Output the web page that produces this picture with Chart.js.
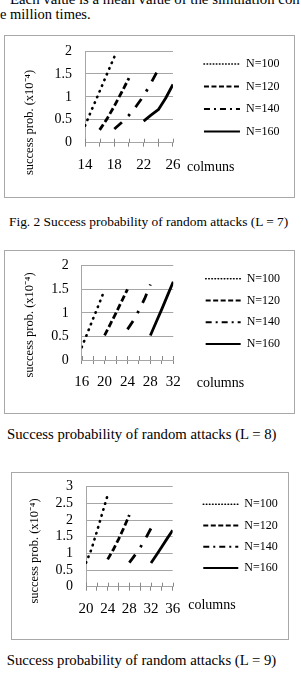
<!DOCTYPE html>
<html><head><meta charset="utf-8">
<script src="https://cdn.jsdelivr.net/npm/chart.js@4.4.1/dist/chart.umd.min.js"></script>
<style>
html,body{margin:0;padding:0;background:#fff;}
body{width:301px;height:677px;overflow:hidden;position:relative;font-family:'Liberation Serif','Times New Roman',serif;color:#000;}
.t{position:absolute;white-space:nowrap;line-height:1;}
.box{position:absolute;box-sizing:border-box;border:1px solid #a8a8a8;}
canvas{position:absolute;}
</style></head><body>
<div class="t" style="left:10px;top:-7.9px;font-size:14.8px">Each value is a mean value of the simulation con</div>
<div class="t" style="left:0;top:7.4px;font-size:14.5px">e million times.</div>
<div class="box" style="left:4px;top:35px;width:291px;height:163px"></div>
<canvas id="c7" width="289" height="161" style="left:5px;top:36px"></canvas>
<div class="t" style="left:9px;top:215.3px;font-size:13.4px">Fig. 2 Success probability of random attacks (L = 7)</div>
<div class="box" style="left:4px;top:250px;width:291px;height:164px"></div>
<canvas id="c8" width="289" height="162" style="left:5px;top:251px"></canvas>
<div class="t" style="left:7px;top:426.6px;font-size:14.75px">Success probability of random attacks (L = 8)</div>
<div class="box" style="left:11px;top:472px;width:278px;height:168px"></div>
<canvas id="c9" width="276" height="166" style="left:12px;top:473px"></canvas>
<div class="t" style="left:6.7px;top:652.6px;font-size:14.75px">Success probability of random attacks (L = 9)</div>
<script>
// ---------- data ----------
const SERIES_NAMES = ['N=100', 'N=120', 'N=140', 'N=160'];
const Y_TITLE = 'success prob. (x10⁻⁴)';

// L = 7
const L7_COLUMNS = [14, 15, 16, 17, 18, 19, 20, 21, 22, 23, 24, 25, 26];
const L7_X_LABELS = ['14', '18', '22', '26'];
const L7_N100 = [0.37, 0.75, 1.12, 1.50, 1.87, null, null, null, null, null, null, null, null];
const L7_N120 = [null, null, 0.28, 0.52, 0.80, 1.10, 1.41, null, null, null, null, null, null];
const L7_N140 = [null, null, null, null, 0.30, 0.44, 0.60, 0.80, 1.02, 1.30, 1.60, null, null];
const L7_N160 = [null, null, null, null, null, null, null, null, 0.47, 0.60, 0.72, 0.97, 1.27];

// L = 8
const L8_COLUMNS = [16, 17, 18, 19, 20, 21, 22, 23, 24, 25, 26, 27, 28, 29, 30, 31, 32];
const L8_X_LABELS = ['16', '20', '24', '28', '32'];
const L8_N100 = [0.27, 0.57, 0.88, 1.18, 1.49, null, null, null, null, null, null, null, null, null, null, null, null];
const L8_N120 = [null, null, null, null, 0.52, 0.76, 1.00, 1.25, 1.50, null, null, null, null, null, null, null, null];
const L8_N140 = [null, null, null, null, null, null, null, null, 0.65, 0.83, 1.05, 1.30, 1.60, null, null, null, null];
const L8_N160 = [null, null, null, null, null, null, null, null, null, null, null, null, 0.52, 0.80, 1.08, 1.37, 1.66];

// L = 9
const L9_COLUMNS = [20, 21, 22, 23, 24, 25, 26, 27, 28, 29, 30, 31, 32, 33, 34, 35, 36];
const L9_X_LABELS = ['20', '24', '28', '32', '36'];
const L9_N100 = [0.72, 1.12, 1.65, 2.20, 2.75, null, null, null, null, null, null, null, null, null, null, null, null];
const L9_N120 = [null, null, null, null, 0.82, 1.10, 1.42, 1.77, 2.15, null, null, null, null, null, null, null, null];
const L9_N140 = [null, null, null, null, null, null, null, null, 0.72, 0.94, 1.17, 1.45, 1.75, null, null, null, null];
const L9_N160 = [null, null, null, null, null, null, null, null, null, null, null, null, 0.71, 0.95, 1.20, 1.45, 1.69];

// ---------- styles ----------
const FONT = "'Liberation Serif','Times New Roman',serif";
const GRID = '#a6a6a6';
const STYLES = [
  {dash: [0.5, 5.7], cap: 'round', width: 2.6, legendDash: [0.5, 2.6], legendWidth: 1.6},
  {dash: [6.5, 3], cap: 'butt', width: 2.8, legendDash: [5, 2.5], legendWidth: 2},
  {dash: [10, 9, 2.5, 9], cap: 'butt', width: 2.8, legendDash: [6, 4, 2, 4], legendWidth: 2},
  {dash: [], cap: 'butt', width: 2.8, legendDash: [], legendWidth: 2}
];

const decor = {
  id: 'decor',
  afterLayout(chart, args, o) {
    if (o.legendDy && chart.legend) {
      chart.legend.top += o.legendDy;
      chart.legend.bottom += o.legendDy;
    }
  },
  afterDraw(chart, args, o) {
    const ctx = chart.ctx, x = chart.scales.x;
    ctx.save();
    ctx.strokeStyle = '#888';
    ctx.lineWidth = 1;
    x.ticks.forEach(t => {
      const px = Math.round(x.getPixelForValue(t.value)) + 0.5;
      ctx.beginPath();
      ctx.moveTo(px, x.top - o.tickUp);
      ctx.lineTo(px, x.top);
      ctx.stroke();
    });
    ctx.fillStyle = '#000';
    ctx.font = '14px ' + FONT;
    ctx.textAlign = 'left';
    ctx.textBaseline = 'alphabetic';
    ctx.fillText(o.xLabel.text, x.right + o.xLabel.dx, x.top + o.xLabel.dy);
    ctx.translate(o.yTitle.x, o.yTitle.y);
    ctx.rotate(-Math.PI / 2);
    ctx.textAlign = 'center';
    ctx.textBaseline = 'middle';
    ctx.font = '12.5px ' + FONT;
    ctx.fillText(Y_TITLE, 0, 0);
    ctx.restore();
  }
};

function pts(cols, vals) {
  return cols.map((c, i) => ({x: c, y: vals[i]})).filter(p => p.y !== null);
}

function build(id, cols, series, xLabels, yMax, L) {
  new Chart(document.getElementById(id), {
    type: 'line',
    data: {
      datasets: series.map((vals, i) => ({
        label: SERIES_NAMES[i],
        data: pts(cols, vals),
        borderColor: '#000',
        backgroundColor: '#000',
        borderWidth: STYLES[i].width,
        borderDash: STYLES[i].dash,
        borderCapStyle: STYLES[i].cap,
        borderJoinStyle: 'round',
        pointRadius: 0,
        pointHoverRadius: 0,
        fill: false,
        tension: 0
      }))
    },
    options: {
      responsive: false,
      animation: false,
      events: [],
      layout: {padding: L.pad},
      scales: {
        x: {
          type: 'linear',
          min: cols[0],
          max: cols[cols.length - 1],
          grid: {display: true, drawOnChartArea: false, drawTicks: true, tickLength: 4, color: '#888'},
          border: {display: true, color: GRID},
          ticks: {
            stepSize: 2,
            padding: 9,
            maxRotation: 0,
            autoSkip: false,
            color: '#000',
            font: {family: FONT, size: 15},
            callback: v => xLabels.includes(String(v)) ? String(v) : ''
          }
        },
        y: {
          type: 'linear',
          position: 'left',
          min: 0,
          max: yMax,
          grid: {color: GRID, drawTicks: true, tickLength: 12, tickColor: 'rgba(0,0,0,0)'},
          border: {display: true, color: GRID},
          ticks: {stepSize: 0.5, autoSkip: false, padding: 1, color: '#000', font: {family: FONT, size: 14},
                  callback: v => String(v)},
          afterFit: s => { s.width = L.yWidth; }
        },
        sp: {
          type: 'linear',
          position: 'right',
          display: true,
          grid: {display: false, drawTicks: false},
          border: {display: false},
          ticks: {display: false},
          afterFit: s => { s.width = L.spacer; }
        }
      },
      plugins: {
        tooltip: {enabled: false},
        legend: {
          position: 'right',
          align: 'start',
          maxWidth: 160,
          labels: {
            usePointStyle: true,
            pointStyle: 'line',
            pointStyleWidth: L.boxW,
            padding: L.legendPad,
            color: '#000',
            font: {family: FONT, size: 12},
            generateLabels(chart) {
              const items = Chart.defaults.plugins.legend.labels.generateLabels(chart);
              items.forEach(it => {
                const s = STYLES[it.datasetIndex];
                it.pointStyle = 'line';
                it.lineDash = s.legendDash;
                it.lineWidth = s.legendWidth;
                it.lineCap = s.cap;
                it.strokeStyle = '#000';
                it.fillStyle = '#000';
              });
              return items;
            }
          }
        },
        decor: L.decor
      }
    },
    plugins: [decor]
  });
}

build('c7', L7_COLUMNS, [L7_N100, L7_N120, L7_N140, L7_N160], L7_X_LABELS, 2, {
  pad: {left: 0, top: 15, right: 4.6, bottom: 14.3},
  yWidth: 80, spacer: 20.5, legendPad: 10.5, boxW: 36,
  decor: {legendDy: -3.5, tickUp: 4, yTitle: {x: 25, y: 86.5}, xLabel: {text: 'colmuns', dx: 14, dy: 28.3}}
});
build('c8', L8_COLUMNS, [L8_N100, L8_N120, L8_N140, L8_N160], L8_X_LABELS, 2, {
  pad: {left: 0, top: 14.7, right: 3.9, bottom: 13},
  yWidth: 76.7, spacer: 22.6, legendPad: 9.8, boxW: 35,
  decor: {legendDy: -2.8, tickUp: 4, yTitle: {x: 25, y: 74}, xLabel: {text: 'columns', dx: 23.4, dy: 26.7}}
});
build('c9', L9_COLUMNS, [L9_N100, L9_N120, L9_N140, L9_N160], L9_X_LABELS, 3, {
  pad: {left: 0, top: 13.7, right: 0.3, bottom: 12.3},
  yWidth: 74, spacer: 21.4, legendPad: 9.2, boxW: 35,
  decor: {legendDy: 2.4, tickUp: 4, yTitle: {x: 22.3, y: 78}, xLabel: {text: 'columns', dx: 15.6, dy: 22}}
});
</script>
</body></html>
